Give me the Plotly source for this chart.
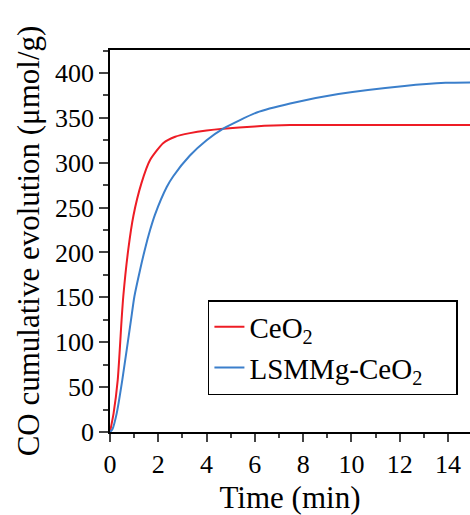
import plotly.graph_objects as go

t_ceo2 = [0, 0.15, 0.32, 0.48, 0.55, 0.76, 0.97, 1.3, 1.66, 2.21, 2.7, 3.31, 4.0, 4.69, 6.0, 7.46, 10.0, 14.95]
y_ceo2 = [0, 21, 58, 125, 151, 204, 241, 277, 303, 322, 329, 333, 336, 338, 340.5, 342, 342, 342]

t_lsm = [0, 0.1, 0.28, 0.51, 0.87, 1.01, 1.24, 1.45, 1.66, 1.86, 2.35, 2.62, 3.31, 4.0, 4.69, 6.08, 7.46, 9.46, 12.2, 13.9, 14.95]
y_lsm = [0, 3, 21, 58, 125, 151, 180, 204, 225, 242, 273, 285, 308, 325, 338, 356, 366, 376.5, 385.5, 389, 389.5]

x_ticks = [0, 2, 4, 6, 8, 10, 12, 14]
y_ticks = [0, 50, 100, 150, 200, 250, 300, 350, 400]

font_family = "Liberation Serif"
pad = "\u00a0" * 4

fig = go.Figure()
fig.add_trace(go.Scatter(x=t_ceo2, y=y_ceo2, mode="lines", name="CeO<sub>2</sub>",
                         line=dict(color="#ee1c25", width=2, shape="spline", smoothing=0.6),
                         legendgroup="a"))
fig.add_trace(go.Scatter(x=t_lsm, y=y_lsm, mode="lines", name="LSMMg-CeO<sub>2</sub>" + pad,
                         line=dict(color="#3b7fcb", width=2, shape="spline", smoothing=0.6),
                         legendgroup="b"))

fig.update_layout(
    width=470, height=515,
    margin=dict(l=110, r=0, t=50, b=83),
    paper_bgcolor="white", plot_bgcolor="white",
    font=dict(family=font_family, color="black", size=26),
    legend=dict(x=0.272, y=0.3455, xanchor="left", yanchor="top",
                bordercolor="black", borderwidth=1.5, bgcolor="white",
                font=dict(size=29, family=font_family), tracegroupgap=0,
                traceorder="grouped"),
    showlegend=True,
)
fig.update_xaxes(range=[0, 14.91], tickvals=x_ticks, ticks="outside", ticklen=8, tickwidth=1.5,
                 showline=True, linecolor="black", linewidth=1.5, mirror=True,
                 showgrid=False, zeroline=False,
                 minor=dict(dtick=1, ticks="outside", ticklen=4, tickwidth=1.5, tick0=0),
                 tickfont=dict(size=26),
                 title=dict(text="Time (min)", font=dict(size=31), standoff=14))
fig.update_yaxes(range=[0, 425.6], tickvals=y_ticks, ticks="outside", ticklen=9, tickwidth=1.5,
                 showline=True, linecolor="black", linewidth=1.5, mirror=False,
                 showgrid=False, zeroline=False,
                 minor=dict(dtick=25, ticks="outside", ticklen=5, tickwidth=1.5, tick0=0),
                 tickfont=dict(size=26),
                 title=dict(text="CO cumulative evolution (μmol/g)", font=dict(size=31), standoff=6))

fig.write_html("out.html")
